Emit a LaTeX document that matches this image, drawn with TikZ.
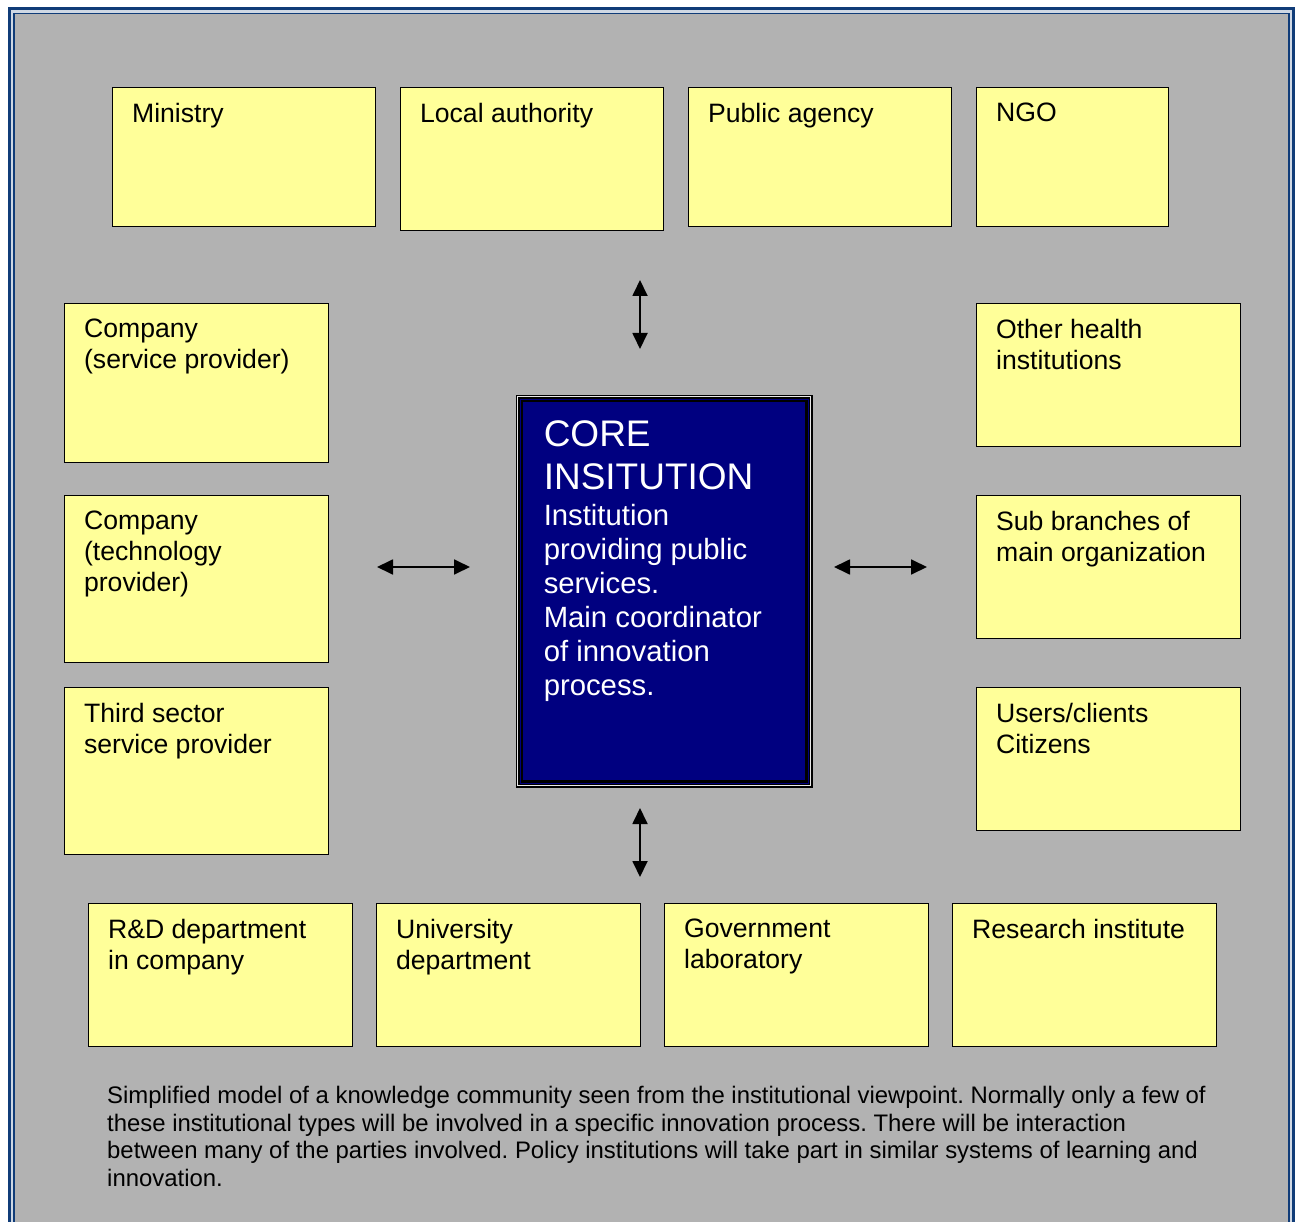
\documentclass[tikz,border=0pt]{standalone}
\usepackage{fontspec}
\setmainfont{Liberation Sans}
\usetikzlibrary{arrows.meta}
\definecolor{panel}{RGB}{178,178,178}
\definecolor{note}{RGB}{255,255,153}
\definecolor{coreblue}{RGB}{0,0,128}
\definecolor{frameblue}{RGB}{16,60,120}
\newcommand\cardbox[3]{\parbox[t][#2][t]{#1}{\raggedright #3}}

\begin{document}
\begin{tikzpicture}[x=1pt,y=-1pt,
    card/.style={draw=black, line width=1.2pt, fill=note, anchor=north west,
      inner xsep=19.5pt, inner ysep=15.5pt, font=\fontsize{26.6}{31}\selectfont},
    link/.style={{Triangle[length=16pt,width=15pt]}-{Triangle[length=16pt,width=15pt]}, line width=1.8pt}]
    \useasboundingbox (0,0) rectangle (1298,1222);
    \clip (0,0) rectangle (1298,1222);
    \fill[white] (0,0) rectangle (1298,1222);
    % page frame
    \draw[frameblue, line width=3pt, fill=white!80!frameblue] (9.5,9) rectangle (1293.5,1250);
    \draw[frameblue, line width=1.5pt, fill=panel] (14,13.5) rectangle (1289,1250);
    % top row
    \node[card] (T0) at (112,87) {\cardbox{224pt}{108pt}{Ministry}};
    \node[card] (T1) at (400,87) {\cardbox{224pt}{112pt}{Local authority}};
    \node[card] (T2) at (688,87) {\cardbox{224pt}{108pt}{Public agency}};
    \node[card] (T3) at (976,87) {\cardbox{153pt}{108pt}{NGO}};
    % left column
    \node[card] (L0) at (64,303) {\cardbox{225pt}{128pt}{Company\\(service provider)}};
    \node[card] (L1) at (64,495) {\cardbox{225pt}{136pt}{Company\\(technology\\provider)}};
    \node[card] (L2) at (64,687) {\cardbox{225pt}{136pt}{Third sector\\service provider}};
    % right column
    \node[card] (R0) at (976,303) {\cardbox{225pt}{112pt}{Other health\\institutions}};
    \node[card] (R1) at (976,495) {\cardbox{225pt}{112pt}{Sub branches of\\main organization}};
    \node[card] (R2) at (976,687) {\cardbox{225pt}{112pt}{Users/clients\\Citizens}};
    % bottom row
    \node[card] (B0) at (88,903) {\cardbox{225pt}{112pt}{R\&D department\\in company}};
    \node[card] (B1) at (376,903) {\cardbox{225pt}{112pt}{University\\department}};
    \node[card] (B2) at (664,903) {\cardbox{225pt}{112pt}{Government\\laboratory}};
    \node[card] (B3) at (952,903) {\cardbox{225pt}{112pt}{Research institute}};
    % core
    \node[draw=black, line width=1.5pt, double=white!70!panel, double distance=1pt,
      fill=coreblue, text=white, anchor=north west, inner xsep=26pt, inner ysep=24pt]
      (core) at (517,396) {\parbox[t][341pt][t]{241pt}{%
        {\fontsize{37}{43}\selectfont CORE\\INSITUTION\par}\vspace{1.5pt}%
        {\fontsize{29.3}{34}\selectfont Institution\\providing public\\services.\\Main coordinator\\of innovation\\process.\par}}};
    \draw[line width=2.5pt] ([shift={(5,5)}]core.north west) rectangle ([shift={(-5,-5)}]core.south east);
    % arrows
    \coordinate (u1) at (640,280);
    \coordinate (u2) at (640,349);
    \coordinate (d1) at (640,808);
    \coordinate (d2) at (640,877);
    \coordinate (l1) at (377,567);
    \coordinate (l2) at (470,567);
    \coordinate (r1) at (834,567);
    \coordinate (r2) at (927,567);
    \draw[link] (u1) -- (u2);
    \draw[link] (d1) -- (d2);
    \draw[link] (l1) -- (l2);
    \draw[link] (r1) -- (r2);
    % caption
    \node[anchor=north west, inner sep=0pt, align=left,
      font=\frenchspacing\fontsize{23.9}{27.5}\selectfont] (note) at (107,1086)
      {Simplified model of a knowledge community seen from the institutional viewpoint. Normally only a few of\\
       these institutional types will be involved in a specific innovation process. There will be interaction\\
       between many of the parties involved. Policy institutions will take part in similar systems of learning and\\
       innovation.};
\end{tikzpicture}
\end{document}
